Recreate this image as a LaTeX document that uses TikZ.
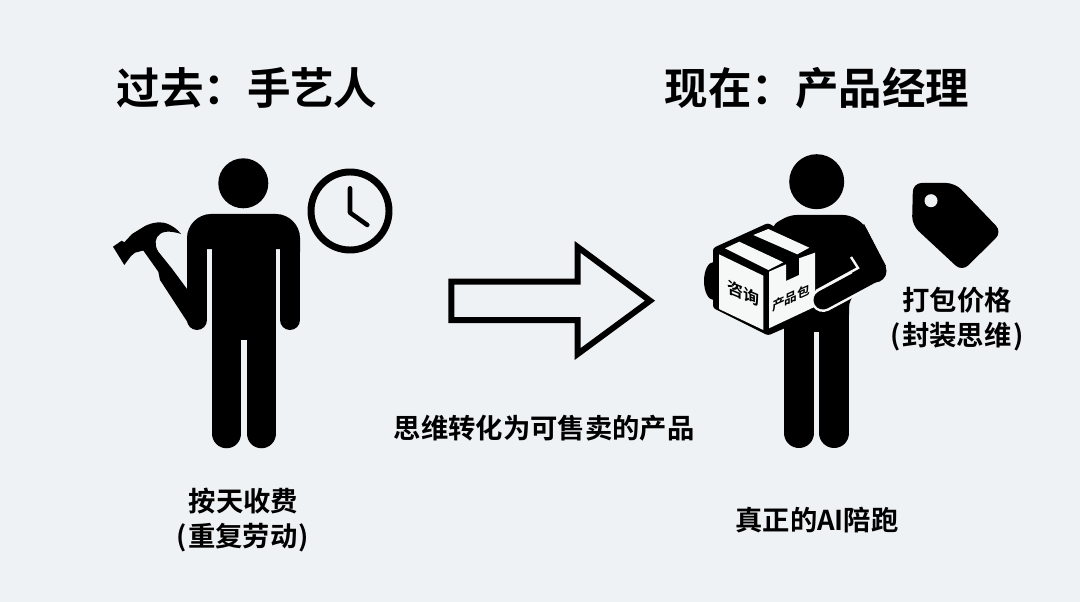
\documentclass[tikz,border=0pt]{standalone}
\usepackage{fontspec}
\newfontfamily\cjk{Noto Sans CJK SC}[BoldFont=* Bold]
\definecolor{bgc}{HTML}{EFF2F4}
\definecolor{facec}{HTML}{F6F7F7}
\tikzset{
  title/.style={font=\cjk\bfseries\fontsize{32.6}{36}\selectfont,inner sep=0pt,text=black},
  label/.style={font=\cjk\bfseries\fontsize{20.5}{24}\selectfont,inner sep=0pt,text=black},
  boxtext/.style={inner sep=0pt,text=black,transform shape},
  limb/.style={line width=#1*0.75pt,line cap=round,black},
}
\begin{document}
\begin{tikzpicture}[x=0.75pt,y=-0.75pt]
\useasboundingbox (0,0) rectangle (1080,602);
\fill[bgc] (0,0) rectangle (1080,602);
% titles
\node[title] (t1) at (247,88) {过去：手艺人};
\node[title] (t2) at (817,88) {现在：产品经理};
% left figure
\fill (243.3,183.3) circle (25);
\fill (187,252) -- (187,238) .. controls (187,225) and (198,214) .. (211,214) -- (276,214)
  .. controls (289,214) and (300,225) .. (300,238) -- (300,252) -- (280,249) -- (207,249) -- cycle;
\draw[limb=20] (197,250) -- (197,320);
\draw[limb=20] (290,250) -- (290,320);
\fill (212,230) rectangle (276,340);
\draw[limb=29.5] (226.7,330) -- (226.7,433.5);
\draw[limb=29.5] (261.3,330) -- (261.3,433.5);
% hammer
\fill[line join=round] (113,246.7) -- (121.7,240.7) -- (124.3,242.3) -- (132,234) -- (145,226)
  .. controls (152,222.5) and (162,220.5) .. (170,225)
  .. controls (174,227) and (178,230) .. (181,234)
  .. controls (175,232) and (165,230) .. (160,234)
  .. controls (155,237) and (154,245) .. (158.3,251.7)
  -- (171.7,268.3) -- (187,289) -- (197,300) -- (200,325) -- (190,326)
  -- (160,280) -- (158.3,271.7) -- (143.3,250.5) -- (135,252.7) -- (131,256) -- (124.3,265) -- cycle;
% clock
\draw[line width=5.2pt] (350,211) circle (39);
\draw[line width=3.4pt,line cap=round,line join=round] (350,188.3) -- (350,212.7) -- (367.3,225);
% arrow
\draw[line width=4.5pt,miter limit=10,fill=bgc] (451.3,281.7) -- (577.7,281.7) -- (577.7,247) -- (650,300.7) -- (577.7,354) -- (577.7,320) -- (451.3,320) -- cycle;
% right figure
\fill (816.7,181.7) circle (27.5);
\draw[limb=30] (799,330) -- (799,433);
\draw[limb=30] (834.3,330) -- (834.3,433);
\fill (784,300) rectangle (849.3,332);
\fill[rounded corners=5pt] (772,225) -- (790,215) -- (850,215) -- (864,224) -- (885,266) -- (849,300) -- (849.3,320) -- (784,320) -- cycle;
% hand behind the box
\fill (713.5,281) ellipse (9.5 and 19);
% box
\fill[rounded corners=2pt] (713,248) -- (768,223) -- (815,250) -- (815,315) -- (768,335.5) -- (713,308) -- cycle;
\fill[facec] (719,254.3) -- (763.3,275.7) -- (763.3,330) -- (719,309) -- cycle;
\fill[facec] (725,248.3) -- (739.3,241.7) -- (783.3,262.3) -- (768.3,270) -- cycle;
\fill[facec] (753.3,235) -- (768.3,229) -- (809.3,247.7) -- (797.3,254.3) -- cycle;
\fill[facec] (769,271.7) -- (786,264.3) -- (786,281) -- (799,275) -- (799,258.3) -- (815,252.7) -- (815,306.7) -- (769,328.3) -- cycle;
\node[boxtext,font=\cjk\bfseries\fontsize{12}{14}\selectfont,yslant=-0.42] (b1) at (743.5,293.5) {咨询};
\node[boxtext,font=\cjk\bfseries\fontsize{9.5}{12}\selectfont,yslant=0.45] (b2) at (791,298) {产品包};
% forearm with halo
\draw[line width=18pt,line cap=round,facec] (823,300) -- (851,285);
\fill (850,240) -- (864,224) -- (886,266) -- (860,285) -- cycle;
\draw[limb=19] (823,300) -- (875,272);
\fill (875,271) circle (11.5);
\draw[facec,line width=1.8pt] (851,257) -- (858,268) -- (816,291);
% tag
\fill[rounded corners=6.5pt] (913,183) -- (955,183) -- (1002,232) -- (962,271.5) -- (912,225) -- cycle;
\fill[bgc] (931,200.7) circle (6.5);
% labels
\node[label] (l1) at (243.5,501) {按天收费};
\node[label] (l2) at (243,538) {(\kern1pt 重复劳动\kern1pt )};
\node[label] (l3) at (544,428) {思维转化为可售卖的产品};
\node[label] (l4) at (817,520) {真正的AI陪跑};
\node[label] (l5) at (957,300) {打包价格};
\node[label] (l6) at (957,337) {(\kern1pt 封装思维\kern1pt )};
\end{tikzpicture}
\end{document}
